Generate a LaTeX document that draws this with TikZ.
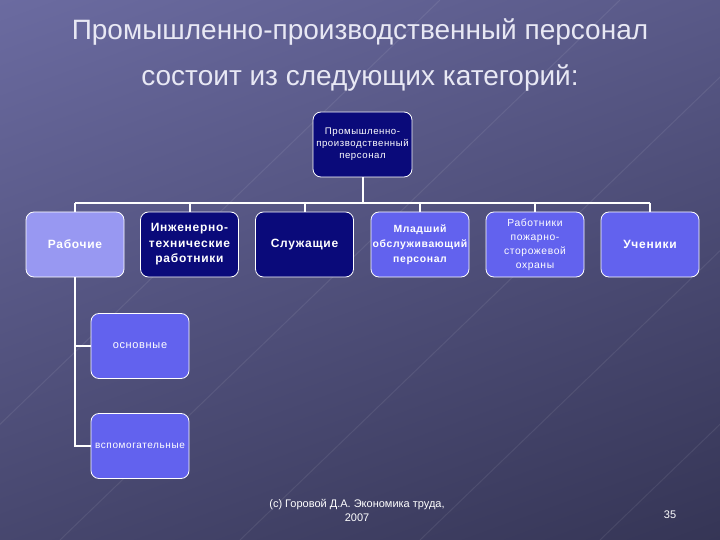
\documentclass[tikz,border=0pt]{standalone}
\usepackage{fontspec}
\setmainfont{Liberation Sans}
\newfontfamily\boxfont[LetterSpace=6]{Liberation Sans}
\usetikzlibrary{positioning}
\definecolor{bgtop}{RGB}{108,108,162}
\definecolor{bgbot}{RGB}{52,52,84}
\definecolor{navybox}{RGB}{10,10,122}
\definecolor{midbox}{RGB}{98,98,238}
\definecolor{lightbox}{RGB}{152,152,242}
\definecolor{titletext}{RGB}{232,232,244}

\begin{document}
\begin{tikzpicture}[x=1pt,y=-1pt,
    catbox/.style={draw=white, line width=0.8pt, rounded corners=8pt,
        minimum width=98pt, minimum height=65pt, inner sep=0pt,
        align=center, text=white, font=\boxfont},
    link/.style={draw=white, line width=2pt}]
  \useasboundingbox (0,0) rectangle (720,540);
  % background
  \begin{scope}
    \clip (0,0) rectangle (720,540);
    \shade[top color=bgtop, bottom color=bgbot, shading angle=20] (-100,-100) rectangle (820,640);
    \foreach \x in {-120,60,240,420,600,780}
      \draw[white, opacity=0.08, line width=1pt] (\x,540) -- (\x+560,0);
  \end{scope}

  % title
  \node[text=titletext, font=\fontsize{28}{30}\selectfont] (t1) at (360,32) {Промышленно-производственный персонал};
  \node[text=titletext, font=\fontsize{28}{30}\selectfont] (t2) at (360,78) {состоит из следующих категорий:};

  % boxes
  \node[catbox, fill=navybox, minimum width=99pt, font=\boxfont\fontsize{9.6}{12}\selectfont] (ppp) at (362.5,144.5) {Промышленно-\\производственный\\персонал};
  \node[catbox, fill=lightbox, font=\boxfont\bfseries\fontsize{12}{15.5}\selectfont] (rab) at (75,244.5) {Рабочие};
  \node[catbox, fill=navybox, font=\boxfont\bfseries\fontsize{12}{15.5}\selectfont] (itr) at (189.5,244.5) {Инженерно-\\технические\\работники};
  \node[catbox, fill=navybox, font=\boxfont\bfseries\fontsize{12}{15.5}\selectfont] (sl) at (304.5,244.5) {Служащие};
  \node[catbox, fill=midbox, font=\boxfont\bfseries\fontsize{10.4}{15}\selectfont] (mop) at (420,244.5) {Младший\\обслуживающий\\персонал};
  \node[catbox, fill=midbox, font=\boxfont\fontsize{10.3}{14}\selectfont] (pso) at (535,244.5) {Работники\\пожарно-\\сторожевой\\охраны};
  \node[catbox, fill=midbox, font=\boxfont\bfseries\fontsize{12}{15.5}\selectfont] (uch) at (650,244.5) {Ученики};
  \node[catbox, fill=midbox, font=\boxfont\fontsize{11}{13}\selectfont] (osn) at (140,346) {основные};
  \node[catbox, fill=midbox, font=\boxfont\fontsize{10}{12}\selectfont] (vsp) at (140,446) {вспомогательные};

  % connectors
  \coordinate (bus) at (0,203);
  \draw[link] (ppp.south) -- (ppp.south |- bus);
  \draw[link] (rab.north |- bus) -- (uch.north |- bus);
  \foreach \n in {rab,itr,sl,mop,pso,uch}
    \draw[link] (\n.north) -- (\n.north |- bus);
  \draw[link] (rab.south) |- (osn.west);
  \draw[link] (rab.south) |- (vsp.west);

  % footer
  \node[text=white, align=center, font=\fontsize{11}{14}\selectfont] (foot) at (357,510) {(c) Горовой Д.А. Экономика труда,\\2007};
  \node[text=white, font=\fontsize{11}{14}\selectfont] (page) at (670,515) {35};
\end{tikzpicture}
\end{document}
